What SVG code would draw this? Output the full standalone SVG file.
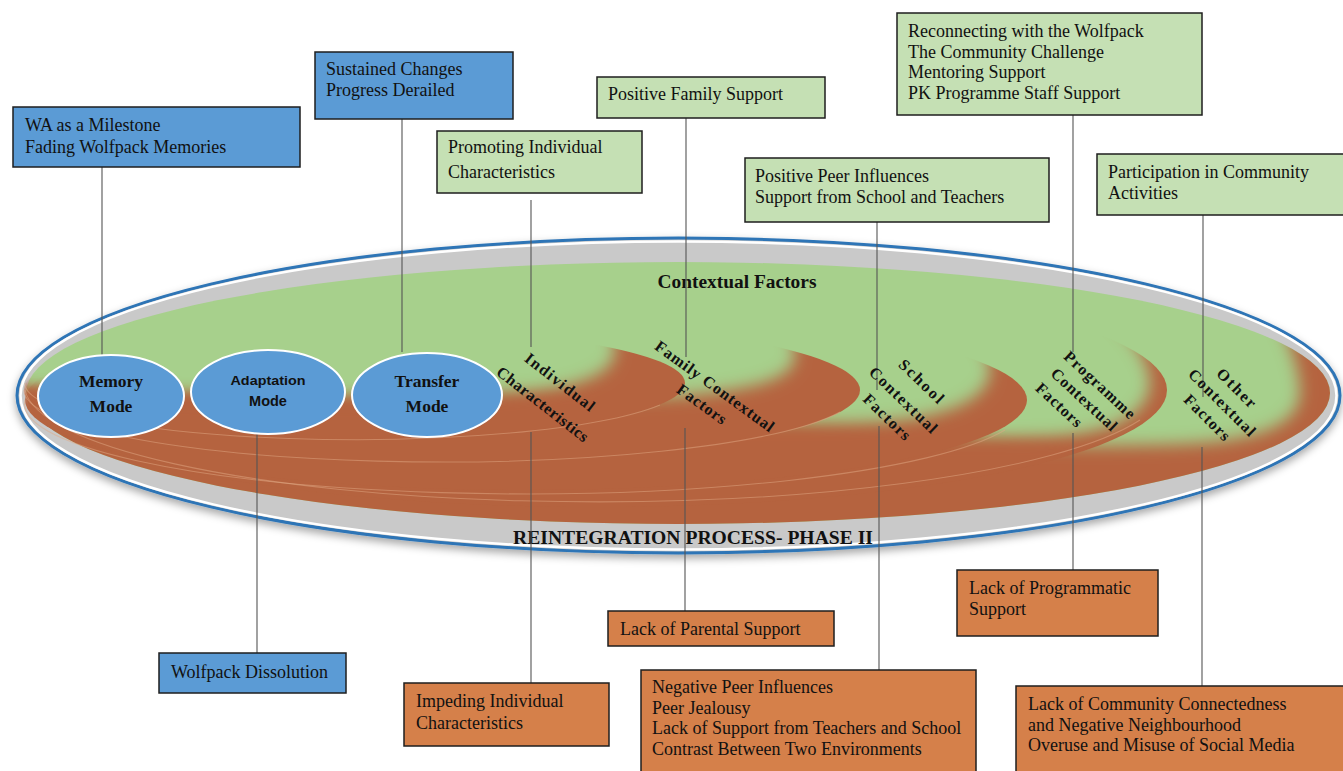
<svg xmlns="http://www.w3.org/2000/svg" width="1343" height="771" viewBox="0 0 1343 771">
<style>
.bx{stroke:#1e1e1e;stroke-width:1.5}
.blue{fill:#5b9bd5}
.grn{fill:#c5e0b4}
.org{fill:#d5804a}
.t{font-family:"Liberation Serif","Times New Roman",serif;font-size:18px;fill:#111}
.b{font-family:"Liberation Serif","Times New Roman",serif;font-weight:bold;fill:#111}
.rl{font-family:"Liberation Serif","Times New Roman",serif;font-weight:bold;font-size:16px;fill:#111;text-anchor:middle}
.rs{font-family:"Liberation Serif","Times New Roman",serif;font-weight:bold;font-size:16px;fill:#111;text-anchor:start}
.brown{fill:#b5633f}
.green{fill:#a7d08c}
.seam{fill:none;stroke:#e2a985;stroke-opacity:0.5;stroke-width:1.1}
.mode{fill:#5b9bd5;stroke:#ffffff;stroke-width:2}
.cn{stroke:#555;stroke-width:1.1;fill:none}
</style>
<defs>
<filter id="sh" x="-5%" y="-10%" width="110%" height="125%">
<feDropShadow dx="0" dy="4" stdDeviation="4" flood-color="#000" flood-opacity="0.35"/>
</filter>
<filter id="bl" x="-10%" y="-20%" width="120%" height="140%">
<feGaussianBlur stdDeviation="8"/>
</filter>
<mask id="mOther" maskUnits="userSpaceOnUse" x="0" y="200" width="1343" height="400">
<rect x="0" y="200" width="1343" height="400" fill="#fff"/>
<path fill="#000" filter="url(#bl)" d="M -60,150 V 392 C 500,425 1000,455 1200,443 C 1270,438 1300,420 1300,392 C 1300,370 1290,340 1270,300 L 1250,150 Z"/>
</mask>
<mask id="mProg" maskUnits="userSpaceOnUse" x="0" y="200" width="1343" height="400">
<rect x="0" y="200" width="1343" height="400" fill="#fff"/>
<path fill="#000" filter="url(#bl)" d="M -60,150 V 390 C 400,415 850,445 1050,437 C 1110,434 1148,415 1150,385 C 1150,360 1132,338 1115,320 L 1095,150 Z"/>
</mask>
<mask id="mSchool" maskUnits="userSpaceOnUse" x="0" y="200" width="1343" height="400">
<rect x="0" y="200" width="1343" height="400" fill="#fff"/>
<path fill="#000" filter="url(#bl)" d="M -60,150 V 388 C 300,405 700,430 880,422 C 945,418 988,400 990,372 C 990,350 975,335 960,320 L 945,150 Z"/>
</mask>
<mask id="mFam" maskUnits="userSpaceOnUse" x="0" y="200" width="1343" height="400">
<rect x="0" y="200" width="1343" height="400" fill="#fff"/>
<path fill="#000" filter="url(#bl)" d="M -60,150 V 386 C 200,400 560,405 690,395 C 760,388 795,378 795,355 C 795,340 788,330 778,320 L 765,150 Z"/>
</mask>
<mask id="mInd" maskUnits="userSpaceOnUse" x="0" y="200" width="1343" height="400">
<rect x="0" y="200" width="1343" height="400" fill="#fff"/>
<path fill="#000" filter="url(#bl)" d="M -60,150 V 386 C 150,402 430,404 545,390 C 595,382 615,368 615,350 C 615,335 608,325 600,315 L 595,150 Z"/>
</mask>
</defs>

<g id="reintegration-ellipse">
<ellipse cx="678.5" cy="395.5" rx="661.5" ry="157.5" fill="#c9c9c9" stroke="#2e75b6" stroke-width="3" filter="url(#sh)"/>
<ellipse cx="678.5" cy="395.5" rx="658" ry="154" fill="none" stroke="#ffffff" stroke-width="2.5"/>
</g>

<g id="contextual-rings">
<ellipse class="green" cx="678" cy="393" rx="652" ry="131"/>
<ellipse class="brown" cx="678" cy="393" rx="652" ry="131" mask="url(#mOther)"/>
<ellipse class="brown" cx="596" cy="390" rx="571" ry="117" mask="url(#mProg)"/>
<ellipse class="brown" cx="526" cy="400" rx="501" ry="90" mask="url(#mSchool)"/>
<ellipse class="brown" cx="442" cy="390" rx="418" ry="72" mask="url(#mFam)"/>
<ellipse class="brown" cx="355" cy="383" rx="330" ry="56" mask="url(#mInd)"/>
<path class="seam" d="M 1140,420 A 571 117 0 0 1 25,390"/>
<path class="seam" d="M 1005,430 A 501 90 0 0 1 25,400"/>
<path class="seam" d="M 840,412 A 418 72 0 0 1 24,390"/>
<path class="seam" d="M 660,405 A 330 56 0 0 1 25,383"/>
</g>

<g id="title-contextual"><text class="b" x="737" y="288" font-size="18.5" text-anchor="middle" textLength="159" lengthAdjust="spacingAndGlyphs">Contextual Factors</text></g>
<g id="title-phase"><text class="b" x="693" y="544" font-size="19.5" text-anchor="middle" textLength="360" lengthAdjust="spacingAndGlyphs">REINTEGRATION PROCESS- PHASE II</text></g>

<g id="connectors">
<line class="cn" x1="102" y1="167" x2="102" y2="355"/>
<line class="cn" x1="402" y1="119" x2="402" y2="352"/>
<line class="cn" x1="531" y1="200" x2="531" y2="347"/>
<line class="cn" x1="686" y1="118" x2="686" y2="357"/>
<line class="cn" x1="877" y1="222" x2="877" y2="390"/>
<line class="cn" x1="1073" y1="115" x2="1073" y2="352"/>
<line class="cn" x1="1203" y1="215" x2="1203" y2="397"/>
<line class="cn" x1="257" y1="433" x2="257" y2="653"/>
<line class="cn" x1="531" y1="432" x2="531" y2="683"/>
<line class="cn" x1="685" y1="428" x2="685" y2="611"/>
<line class="cn" x1="879" y1="426" x2="879" y2="670"/>
<line class="cn" x1="1073" y1="433" x2="1073" y2="570"/>
<line class="cn" x1="1202" y1="447" x2="1202" y2="686"/>
</g>

<g id="memory-mode">
<ellipse class="mode" cx="111" cy="396" rx="73" ry="41"/>
<text class="b" font-size="17.5" x="111" y="387" text-anchor="middle">Memory</text>
<text class="b" font-size="17.5" x="111" y="412" text-anchor="middle">Mode</text>
</g>
<g id="adaptation-mode">
<ellipse class="mode" cx="268" cy="392" rx="77" ry="42"/>
<text x="268" y="385" text-anchor="middle" font-family="'Liberation Sans',Arial,sans-serif" font-weight="bold" font-size="13.5" fill="#111" textLength="75" lengthAdjust="spacingAndGlyphs">Adaptation</text>
<text x="268" y="406" text-anchor="middle" font-family="'Liberation Sans',Arial,sans-serif" font-weight="bold" font-size="14.5" fill="#111">Mode</text>
</g>
<g id="transfer-mode">
<ellipse class="mode" cx="427" cy="395" rx="75" ry="42"/>
<text class="b" font-size="17.5" x="427" y="387" text-anchor="middle">Transfer</text>
<text class="b" font-size="17.5" x="427" y="412" text-anchor="middle">Mode</text>
</g>

<g id="label-individual" transform="translate(556.6,386.3) rotate(38)">
<text class="rl" x="0" y="0" textLength="84">Individual</text>
<text class="rl" x="0" y="28" textLength="112">Characteristics</text>
</g>
<g id="label-family" transform="translate(711.6,390.6) rotate(36)">
<text class="rl" x="0" y="0" textLength="143">Family Contextual</text>
<text class="rl" x="0" y="22" textLength="57">Factors</text>
</g>
<g id="label-school" transform="translate(917.7,385.1) rotate(44)">
<text class="rl" x="0" y="0" textLength="56">School</text>
<text class="rl" x="0" y="26" textLength="88">Contextual</text>
<text class="rl" x="0" y="49.6" textLength="59">Factors</text>
</g>
<g id="label-programme" transform="translate(1062.8,357.7) rotate(43)">
<text class="rs" x="0" y="0" textLength="91">Programme</text>
<text class="rs" x="2" y="21.3" textLength="84">Contextual</text>
<text class="rs" x="1" y="42.5" textLength="57">Factors</text>
</g>
<g id="label-other" transform="translate(1232.8,391.8) rotate(45)">
<text class="rl" x="0" y="0" textLength="49">Other</text>
<text class="rl" x="0" y="20.5" textLength="88">Contextual</text>
<text class="rl" x="0" y="41.7" textLength="58">Factors</text>
</g>

<g id="box-memory">
<rect class="bx blue" x="13" y="107" width="287" height="60"/>
<text class="t" x="25" y="131">WA as a Milestone</text>
<text class="t" x="25" y="153">Fading Wolfpack Memories</text>
</g>
<g id="box-transfer">
<rect class="bx blue" x="315" y="52" width="198" height="67"/>
<text class="t" x="326" y="75">Sustained Changes</text>
<text class="t" x="326" y="96">Progress Derailed</text>
</g>
<g id="box-promoting-individual">
<rect class="bx grn" x="437" y="131" width="205" height="62"/>
<text class="t" x="448" y="153">Promoting Individual</text>
<text class="t" x="448" y="178">Characteristics</text>
</g>
<g id="box-positive-family">
<rect class="bx grn" x="597" y="77" width="228" height="41"/>
<text class="t" x="608" y="100">Positive Family Support</text>
</g>
<g id="box-positive-school">
<rect class="bx grn" x="745" y="158" width="304" height="64"/>
<text class="t" x="755" y="182">Positive Peer Influences</text>
<text class="t" x="755" y="203">Support from School and Teachers</text>
</g>
<g id="box-positive-programme">
<rect class="bx grn" x="897" y="13" width="305" height="102"/>
<text class="t" x="908" y="37">Reconnecting with the Wolfpack</text>
<text class="t" x="908" y="58">The Community Challenge</text>
<text class="t" x="908" y="78">Mentoring Support</text>
<text class="t" x="908" y="99">PK Programme Staff Support</text>
</g>
<g id="box-positive-other">
<rect class="bx grn" x="1097" y="154" width="248" height="61"/>
<text class="t" x="1108" y="178">Participation in Community</text>
<text class="t" x="1108" y="199">Activities</text>
</g>
<g id="box-adaptation">
<rect class="bx blue" x="159" y="653" width="187" height="40"/>
<text class="t" x="171" y="678">Wolfpack Dissolution</text>
</g>
<g id="box-impeding-individual">
<rect class="bx org" x="404" y="683" width="205" height="63"/>
<text class="t" x="416" y="707">Impeding Individual</text>
<text class="t" x="416" y="729">Characteristics</text>
</g>
<g id="box-negative-family">
<rect class="bx org" x="608" y="611" width="226" height="35"/>
<text class="t" x="620" y="635">Lack of Parental Support</text>
</g>
<g id="box-negative-school">
<rect class="bx org" x="641" y="670" width="335" height="110"/>
<text class="t" x="652" y="693">Negative Peer Influences</text>
<text class="t" x="652" y="714">Peer Jealousy</text>
<text class="t" x="652" y="734">Lack of Support from Teachers and School</text>
<text class="t" x="652" y="755">Contrast Between Two Environments</text>
</g>
<g id="box-negative-programme">
<rect class="bx org" x="957" y="570" width="201" height="66"/>
<text class="t" x="969" y="594">Lack of Programmatic</text>
<text class="t" x="969" y="615">Support</text>
</g>
<g id="box-negative-other">
<rect class="bx org" x="1016" y="686" width="329" height="95"/>
<text class="t" x="1028" y="710">Lack of Community Connectedness</text>
<text class="t" x="1028" y="731">and Negative Neighbourhood</text>
<text class="t" x="1028" y="751">Overuse and Misuse of Social Media</text>
</g>
</svg>
